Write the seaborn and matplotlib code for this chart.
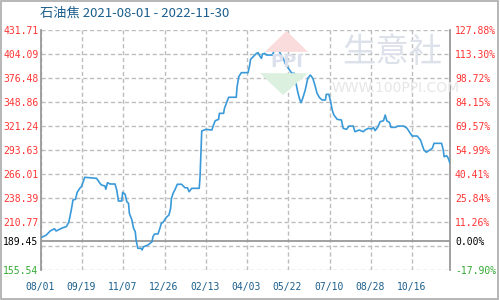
import matplotlib
matplotlib.use("Agg")
import matplotlib.pyplot as plt
import matplotlib.dates as mdates
import matplotlib.transforms as mtransforms
from matplotlib.patches import Polygon, Rectangle
import numpy as np
import pandas as pd
import seaborn as sns

# ---------------- data ----------------
start_date = "2021-08-01"
day_offsets = [0, 6, 11, 16, 18, 22, 26, 30, 33, 36,
               38, 41, 43, 46, 48, 52, 60, 66, 68, 70,
               72, 76, 77, 79, 82, 88, 90, 92, 96, 97,
               100, 102, 104, 105, 108, 110, 112, 113, 115, 119,
               120, 122, 127, 132, 133, 135, 139, 141, 143, 145,
               149, 152, 154, 155, 157, 159, 162, 167, 171, 174,
               176, 179, 188, 189, 190, 191, 196, 203, 205, 207,
               211, 212, 217, 218, 221, 223, 232, 233, 235, 238,
               246, 248, 249, 252, 256, 258, 260, 262, 263, 266,
               268, 275, 277, 283, 285, 288, 290, 294, 298, 301,
               303, 305, 307, 309, 311, 314, 317, 320, 323, 326,
               328, 331, 334, 338, 339, 342, 344, 346, 348, 352,
               357, 359, 363, 366, 371, 373, 378, 383, 385, 389,
               393, 395, 397, 400, 403, 407, 409, 411, 414, 416,
               421, 424, 431, 435, 438, 441, 447, 451, 453, 455,
               458, 462, 465, 467, 476, 478, 479, 482, 484, 486]
prices = [192.8, 195.5, 200.5, 203.0, 200.4, 202.4, 204.2, 205.4, 210.4, 224.6,
          236.1, 236.9, 244.9, 249.5, 251.4, 262.2, 261.5, 261.0, 258.3, 255.3,
          253.3, 252.2, 248.4, 256.0, 254.5, 254.5, 247.6, 234.9, 234.9, 244.9,
          242.6, 234.1, 232.3, 220.8, 213.1, 203.5, 199.6, 190.1, 180.5, 180.5,
          178.6, 182.4, 184.3, 188.1, 193.9, 197.0, 197.0, 202.7, 209.3, 210.4,
          216.2, 218.8, 226.5, 238.0, 243.8, 247.6, 254.2, 254.2, 250.2, 250.2,
          245.6, 249.5, 249.5, 262.9, 287.9, 315.5, 317.4, 316.6, 322.4, 327.3,
          328.9, 335.8, 335.8, 341.6, 349.2, 354.3, 354.3, 366.5, 378.0, 382.6,
          382.6, 391.4, 397.9, 400.9, 404.8, 405.6, 401.8, 399.1, 404.1, 404.8,
          402.9, 402.9, 407.9, 407.9, 402.9, 399.1, 393.4, 387.6, 381.9, 381.9,
          370.4, 360.7, 353.1, 348.1, 353.1, 362.7, 376.1, 379.9, 376.1, 366.5,
          358.9, 353.8, 351.2, 351.2, 357.7, 357.7, 350.0, 339.7, 333.9, 328.9,
          328.1, 318.6, 317.4, 321.2, 321.2, 314.7, 316.6, 314.7, 316.6, 318.6,
          317.8, 319.7, 315.9, 319.7, 326.2, 327.3, 333.9, 327.0, 325.5, 319.7,
          319.7, 321.2, 321.2, 318.6, 314.0, 309.7, 309.7, 305.1, 299.4, 293.6,
          291.0, 293.6, 295.6, 301.3, 301.3, 293.6, 285.9, 287.1, 284.0, 278.3]

base_price = 189.45
y_min, y_max = 155.54, 431.71
grid_levels = [155.54, 183.16, 210.77, 238.39, 266.01, 293.63, 321.24,
               348.86, 376.48, 404.09, 431.71]
left_tick_values = [431.71, 404.09, 376.48, 348.86, 321.24, 293.63, 266.01,
                    238.39, 210.77, 189.45, 155.54]
left_tick_labels = ["431.71", "404.09", "376.48", "348.86", "321.24", "293.63",
                    "266.01", "238.39", "210.77", "189.45", "155.54"]
right_tick_labels = ["127.88%", "113.30%", "98.72%", "84.15%", "69.57%", "54.99%",
                     "40.41%", "25.84%", "11.26%", "0.00%", "-17.90%"]
x_tick_dates = ["2021-08-01", "2021-09-19", "2021-11-07", "2021-12-26",
                "2022-02-13", "2022-04-03", "2022-05-22", "2022-07-10",
                "2022-08-28", "2022-10-16"]
x_tick_labels = ["08/01", "09/19", "11/07", "12/26", "02/13", "04/03",
                 "05/22", "07/10", "08/28", "10/16"]
end_date = "2022-11-30"
title_text = "石油焦 2021-08-01 - 2022-11-30"

assert len(day_offsets) == len(prices)

df = pd.DataFrame({
    "date": pd.Timestamp(start_date) + pd.to_timedelta(day_offsets, unit="D"),
    "price": prices,
})

# ---------------- style ----------------
sns.set_theme(style="white")
plt.rcParams["font.family"] = ["Noto Sans CJK SC", "DejaVu Sans"]

RED = "#ff3333"
GREEN = "#33aa33"
BLUE_TXT = "#1b5e8c"
LINE = "#3a9ad9"
GRID = "#bdbdbd"
SPINE = "#999999"
DASH = (0, (3, 2))
MONO = ["DejaVu Sans Mono"]

fig = plt.figure(figsize=(5, 3), dpi=100)
ax = fig.add_axes([0.082, 0.1, 0.818, 0.8])
ftr = fig.transFigure

tick_nums = mdates.date2num(pd.to_datetime(x_tick_dates))
x_lo = mdates.date2num(pd.Timestamp(start_date))
x_hi = mdates.date2num(pd.Timestamp(end_date))

# grid lines
for g in grid_levels:
    ax.axhline(g, color=GRID, linestyle=DASH, linewidth=1.0)
for d in tick_nums:
    ax.axvline(d, color=GRID, linestyle=DASH, linewidth=1.0)
ax.axhline(base_price, color=SPINE, linewidth=1.3, zorder=2.8)

sns.lineplot(data=df, x="date", y="price", ax=ax, color=LINE, linewidth=1.2,
             zorder=4)

ax.set_ylim(y_min, y_max)
ax.set_xlim(x_lo, x_hi)
ax.set_xlabel("")
ax.set_ylabel("")
ax.grid(False)
ax.set_xticks([])
ax.set_yticks([])

# watermark (figure coordinates)
fig.patches.append(Polygon([[0.53, 0.827], [0.616, 0.827], [0.573, 0.897]],
                           closed=True, transform=ftr, facecolor="#fbdcdc",
                           edgecolor="none", zorder=0.2))
fig.patches.append(Polygon([[0.52, 0.756], [0.616, 0.756], [0.566, 0.683]],
                           closed=True, transform=ftr, facecolor="#dcf0df",
                           edgecolor="none", zorder=0.2))
ax.patch.set_visible(False)
fig.text(0.573, 0.792, "PPI", fontsize=13, color="#dbe1ec", ha="center",
         va="center", fontweight="bold", family=["DejaVu Sans"], zorder=0.3)
fig.text(0.785, 0.825, "生意社", fontsize=24, color="#dce1ea", ha="center",
         va="center", zorder=0.3)
fig.text(0.792, 0.707, "WWW.100PPI.COM", fontsize=10, color="#e6e6e6",
         ha="center", va="center", family=["DejaVu Sans"], zorder=0.3)

def label_color(v):
    if abs(v - base_price) < 1e-6:
        return "black"
    return RED if v > base_price else GREEN

# axis labels as text, nudged one pixel off the grid lines
ytr = mtransforms.offset_copy(ax.get_yaxis_transform(), fig=fig, x=0, y=-1,
                              units="dots")
for v, txt in zip(left_tick_values, left_tick_labels):
    ax.text(-0.006, v, txt, transform=ytr, ha="right", va="center",
            family=MONO, fontsize=7, color=label_color(v), clip_on=False)
for v, txt in zip(left_tick_values, right_tick_labels):
    ax.text(1.012, v, txt, transform=ytr, ha="left", va="center",
            family=MONO, fontsize=7, color=label_color(v), clip_on=False)
xtr = mtransforms.offset_copy(ax.get_xaxis_transform(), fig=fig, x=-1, y=0,
                              units="dots")
for d, txt in zip(tick_nums, x_tick_labels):
    ax.text(d, -0.071, txt, transform=xtr, ha="center", va="center",
            family=MONO, fontsize=7, color=BLUE_TXT, clip_on=False)

for s in ("top", "bottom"):
    ax.spines[s].set_visible(False)
for s in ("left", "right"):
    ax.spines[s].set_color(SPINE)
    ax.spines[s].set_linewidth(1.3)

fig.text(0.08, 0.955, title_text, fontsize=9.5, color=BLUE_TXT, ha="left",
         va="center")

fig.patches.append(Rectangle((0.002, 0.004), 0.994, 0.992, transform=ftr,
                             fill=False, edgecolor="#aaaaaa", linewidth=1.2))

fig.savefig("out.png", dpi=100)
